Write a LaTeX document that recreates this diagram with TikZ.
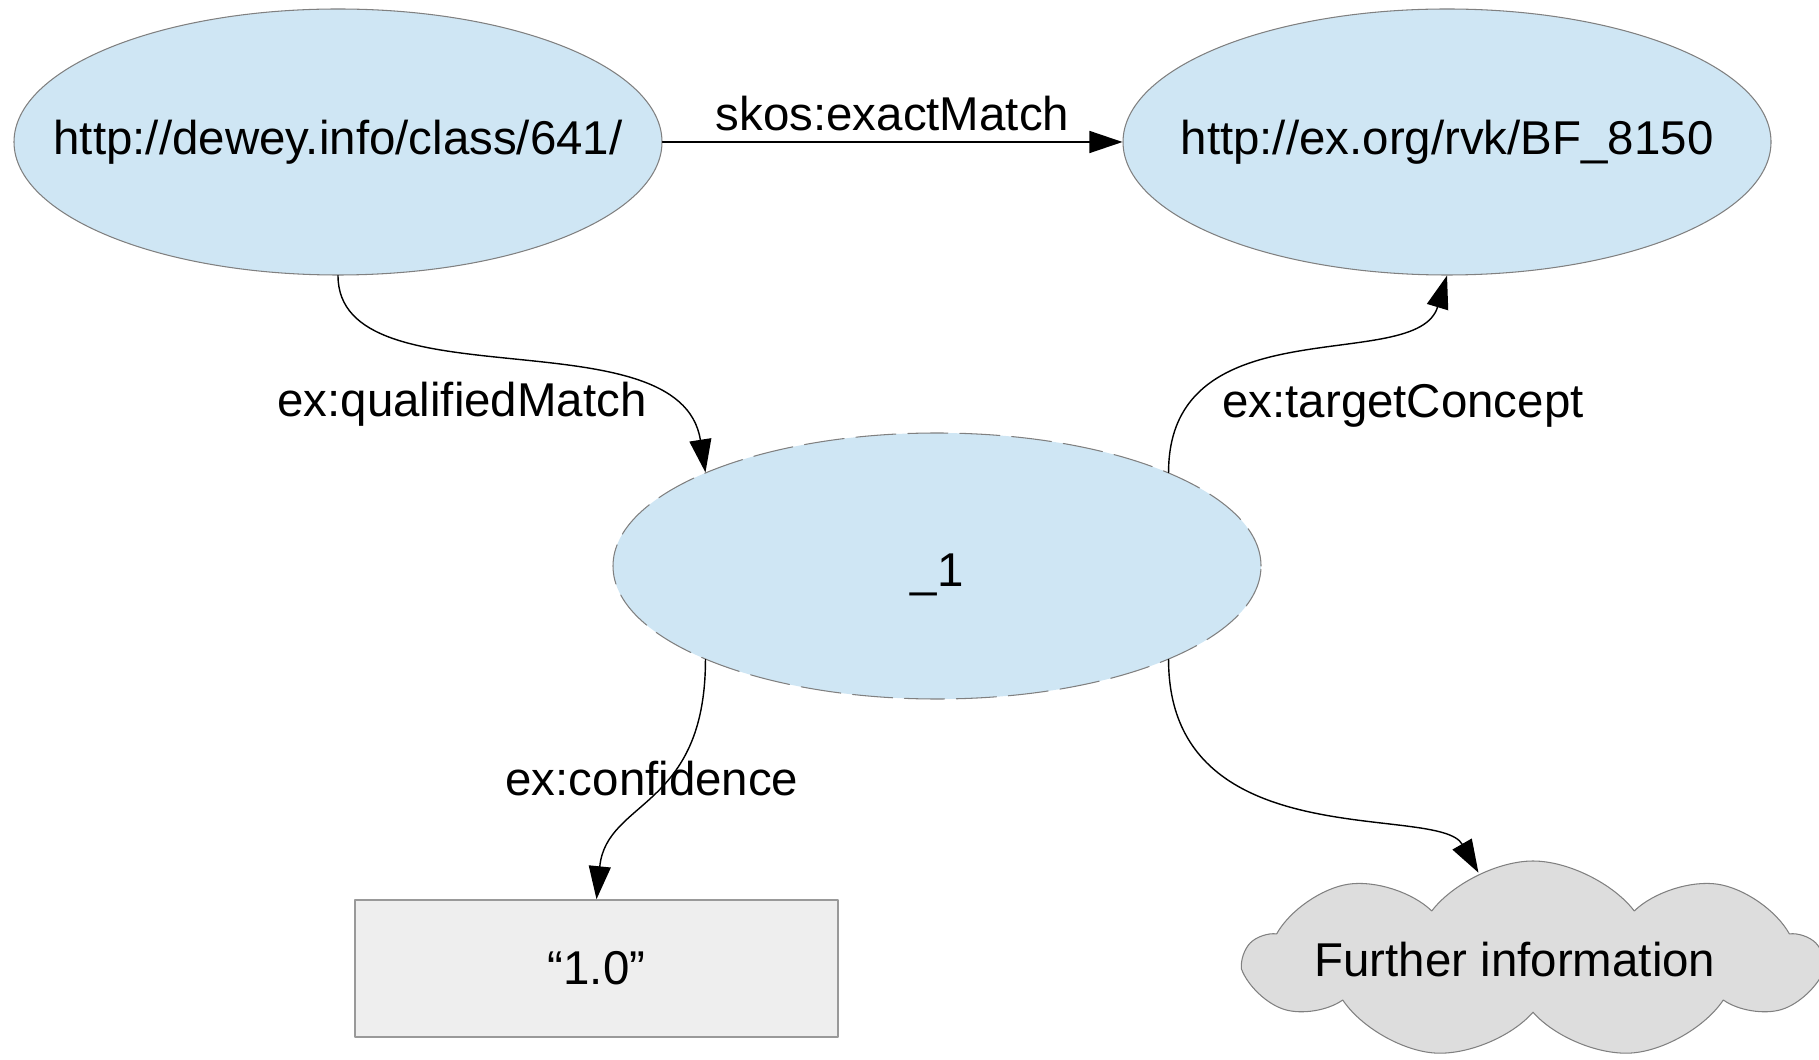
\documentclass[tikz,border=0pt]{standalone}
\usepackage{fontspec}
\setmainfont{Liberation Sans}
\usetikzlibrary{arrows.meta,shapes.geometric,shapes.symbols}
\definecolor{ResourceBlue}{HTML}{CFE6F4}
\definecolor{EdgeGray}{HTML}{808080}
\definecolor{LiteralGray}{HTML}{EEEEEE}
\definecolor{CloudGray}{HTML}{DDDDDD}

\begin{document}
\begin{tikzpicture}[line cap=round,line join=round,font=\fontsize{13.5}{16}\selectfont,
  res/.style={ellipse,draw=EdgeGray,line width=0.3pt,fill=ResourceBlue,inner sep=0pt,
    minimum width=6.48cm,minimum height=2.66cm},
  bnode/.style={res,dash pattern=on 0.4cm off 0.12cm},
  lit/.style={draw=EdgeGray!80,line width=0.45pt,fill=LiteralGray,minimum width=4.83cm,minimum height=1.37cm},
  more/.style={cloud,cloud puffs=9,cloud puff arc=105,cloud ignores aspect,draw=EdgeGray,line width=0.3pt,
    fill=CloudGray,inner sep=0pt,minimum width=5.74cm,minimum height=1.98cm},
  rel/.style={-{Triangle[length=0.33cm,width=0.22cm]},line width=0.4pt},
  lbl/.style={inner sep=0pt,anchor=base}]
  \useasboundingbox (0,0) rectangle (18.19,10.59);
  \node[res] (ddc) at (3.38,9.17) {\makebox[0pt]{http://dewey.info/class/641/}};
  \node[res] (rvk) at (14.47,9.17) {\makebox[0pt]{http://ex.org/rvk/BF\_8150}};
  \node[bnode] (b1) at (9.37,4.93) {\raisebox{-0.09cm}[\height][\depth]{\_1}};
  \node[lit] (conf) at (5.965,0.905) {“1.0”};
  \node[more] (info) at (15.33,0.99) {\makebox[0pt]{\hspace*{-0.36cm}Further information}};
  % edges of the qualified match
  \draw[rel] (ddc) -- node[midway,above=1mm,inner sep=0pt] {skos:exactMatch} (rvk);
  \draw[rel] (ddc.south) .. controls +(0,-1.3) and +(-0.25,1.6) .. (b1.158);
  \draw[rel] (b1.22) .. controls +(0,1.7) and +(-0.3,-1.0) .. (rvk.south);
  \draw[rel] (b1.202) .. controls +(0,-1.5) and +(0.1,1.0) .. (conf.north);
  \draw[rel] (b1.338) .. controls +(0,-2.0) and +(-0.4,0.7) .. (info.122);
  \node[lbl] (qmatch) at (4.62,6.42) {ex:qualifiedMatch};
  \node[lbl] (target) at (14.03,6.41) {ex:targetConcept};
  \node[lbl] (confidence) at (6.52,2.64) {ex:confidence};
\end{tikzpicture}
\end{document}
